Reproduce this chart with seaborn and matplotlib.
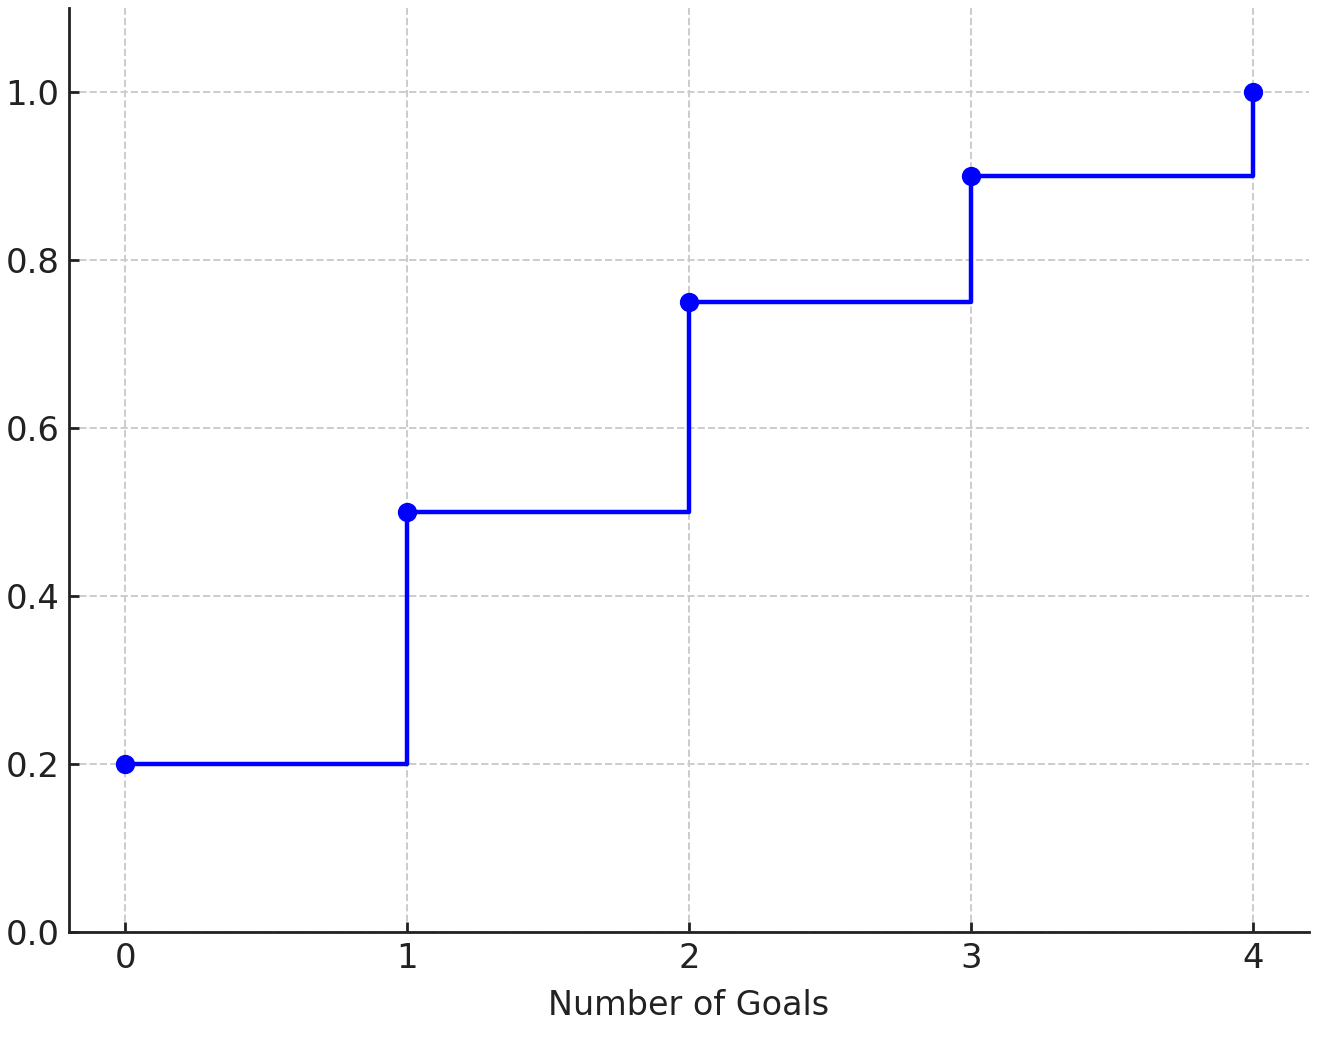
import matplotlib
matplotlib.use("Agg")
import matplotlib.pyplot as plt
import seaborn as sns
import pandas as pd

goals = [0, 1, 2, 3, 4]
cdf = [0.2, 0.5, 0.75, 0.9, 1.0]
xticks = [0, 1, 2, 3, 4]
yticks = [0.0, 0.2, 0.4, 0.6, 0.8, 1.0]

sns.set_style("ticks")
plt.rcParams['font.family'] = ['DejaVu Sans']

df = pd.DataFrame({"goals": goals, "cdf": cdf})

fig = plt.figure(figsize=(6.655, 5.195), dpi=200)
ax = fig.add_axes([69/1331, 1-932/1039, (1309-69)/1331, (932-8)/1039])

sns.lineplot(data=df, x="goals", y="cdf", ax=ax, drawstyle="steps-post",
             marker="o", color="blue", linewidth=1.6, markersize=6.2,
             markeredgecolor="blue")

ax.set_xlim(-0.2, 4.2)
ax.set_ylim(0, 1.1)
ax.set_xticks(xticks)
ax.set_yticks(yticks)
ax.set_yticklabels([f"{v:.1f}" for v in yticks])
ax.set_xlabel("Number of Goals", fontsize=12, color="#222222", labelpad=5)
ax.set_ylabel("")
ax.tick_params(direction="in", length=3.5, width=1.0, labelsize=12.2,
               colors="#222222")
ax.grid(True, linestyle="--", color="#cccccc", linewidth=0.7)
for s in ["top", "right"]:
    ax.spines[s].set_visible(False)
for s in ["left", "bottom"]:
    ax.spines[s].set_linewidth(1.0)
    ax.spines[s].set_color("#222222")

fig.savefig("out.png", dpi=200)
